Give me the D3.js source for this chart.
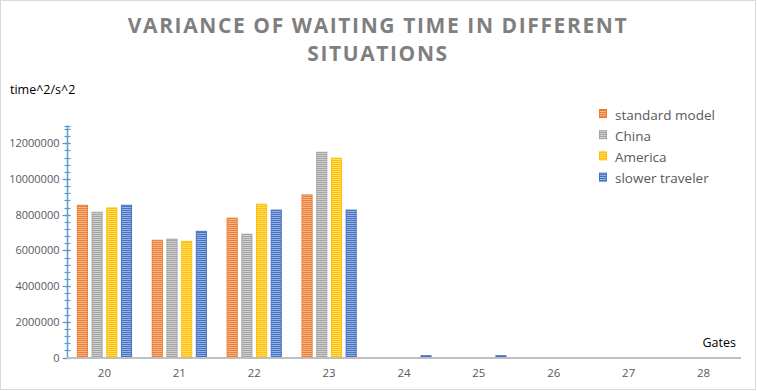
<!DOCTYPE html>
<html><head><meta charset="utf-8">
<script src="https://cdn.jsdelivr.net/npm/d3@7"></script>
<style>
html,body{margin:0;padding:0;background:#fff;}
svg{display:block;font-family:"Open Sans",sans-serif;}
</style></head>
<body><svg id="c" width="757" height="391"></svg>
<script>
const gates = ["20","21","22","23","24","25","26","27","28"];
const seriesNames = ["standard model","China","America","slower traveler"];
const standardModel = [8530000,6570000,7810000,9110000,0,0,0,0,0];
const china = [8140000,6630000,6910000,11500000,0,0,0,0,0];
const america = [8380000,6510000,8590000,11170000,0,0,0,0,0];
const slowerTraveler = [8530000,7070000,8260000,8260000,100000,100000,0,0,0];
const yTicks = [0,2000000,4000000,6000000,8000000,10000000,12000000];
const titleLines = ["VARIANCE OF WAITING TIME IN DIFFERENT","SITUATIONS"];
const yTitle = "time^2/s^2";
const xTitle = "Gates";
const colors = ["#ED7D31","#A5A5A5","#FFC000","#4472C4"];

const seriesValues = [standardModel, china, america, slowerTraveler];
const svg = d3.select("#c");

// border
svg.append("rect").attr("x",0.5).attr("y",0.5).attr("width",755).attr("height",389)
  .attr("fill","#fff").attr("stroke","#D9D9D9");

// patterns
const defs = svg.append("defs");
colors.forEach((c,i)=>{
  const p = defs.append("pattern").attr("id","pat"+i).attr("patternUnits","userSpaceOnUse")
    .attr("width",4).attr("height",2);
  p.append("rect").attr("width",4).attr("height",2).attr("fill",d3.interpolateRgb(c,"#fff")(0.45));
  p.append("rect").attr("width",4).attr("height",1).attr("fill",c);
});

const x = d3.scaleBand().domain(gates).range([67,741]).paddingInner(0.263).paddingOuter(0.1315);
const xs = d3.scaleBand().domain(d3.range(4)).range([0,x.bandwidth()]).paddingInner(0.245);
const y = d3.scaleLinear().domain([0,13000000]).range([357.5,125.5]);

// title
const t = svg.append("text").attr("text-anchor","middle").attr("fill","#7F7F7F")
  .attr("font-size",21).attr("font-weight",700).attr("letter-spacing",1.6);
titleLines.forEach((l,i)=>t.append("tspan").attr("x",378).attr("y",33+i*28).text(l));

// bars
seriesValues.forEach((vals,si)=>{
  svg.append("g").selectAll("rect").data(vals.map((v,i)=>({g:gates[i],v}))).join("rect")
    .filter(d=>d.v>0)
    .attr("x",d=>x(d.g)+xs(si)+0.5)
    .attr("y",d=>y(d.v))
    .attr("width",xs.bandwidth()-1)
    .attr("height",d=>y(0)-y(d.v))
    .attr("fill","url(#pat"+si+")")
    .attr("stroke",colors[si]).attr("stroke-width",1);
});

// y axis
const ax = svg.append("g").attr("transform","translate(67.5,0)");
ax.append("line").attr("y1",y(13000000)).attr("y2",y(0)).attr("stroke","#5B9BD5").attr("stroke-width",1.5);
const minor = d3.range(0,13000001,400000).concat([13000000]);
ax.selectAll("line.mi").data(minor).join("line").attr("class","mi")
  .attr("x1",-3).attr("x2",3).attr("y1",d=>Math.round(y(d))+0.5).attr("y2",d=>Math.round(y(d))+0.5)
  .attr("stroke","#5B9BD5").attr("stroke-width",1.2);
ax.selectAll("line.ma").data(yTicks).join("line").attr("class","ma")
  .attr("x1",-5).attr("x2",3).attr("y1",d=>Math.round(y(d))+0.5).attr("y2",d=>Math.round(y(d))+0.5)
  .attr("stroke","#5B9BD5").attr("stroke-width",1.2);
ax.selectAll("text").data(yTicks).join("text")
  .attr("x",-8).attr("y",d=>y(d)+4).attr("text-anchor","end")
  .attr("font-size",11).attr("fill","#595959").text(d=>d3.format("d")(d));

// x axis
svg.append("line").attr("x1",67).attr("x2",741).attr("y1",358).attr("y2",358)
  .attr("stroke","#BFBFBF").attr("stroke-width",2);
svg.append("g").selectAll("text").data(gates).join("text")
  .attr("x",d=>x(d)+x.bandwidth()/2).attr("y",377).attr("text-anchor","middle")
  .attr("font-size",11.5).attr("fill","#595959").text(d=>d);

// axis titles
svg.append("text").attr("x",10).attr("y",94).attr("font-size",12.5).attr("fill","#000").text(yTitle);
svg.append("text").attr("x",736).attr("y",347).attr("text-anchor","end").attr("font-size",12.5).attr("fill","#000").text(xTitle);

// legend
const lg = svg.append("g").attr("transform","translate(599,0)");
seriesNames.forEach((n,i)=>{
  const by = 119.5 + i*21.2;
  lg.append("rect").attr("x",0.5).attr("y",by-10).attr("width",7).attr("height",8)
    .attr("fill","url(#pat"+i+")").attr("stroke",colors[i]);
  lg.append("text").attr("x",16).attr("y",by).attr("font-size",13.5).attr("fill","#595959").text(n);
});
</script></body></html>
